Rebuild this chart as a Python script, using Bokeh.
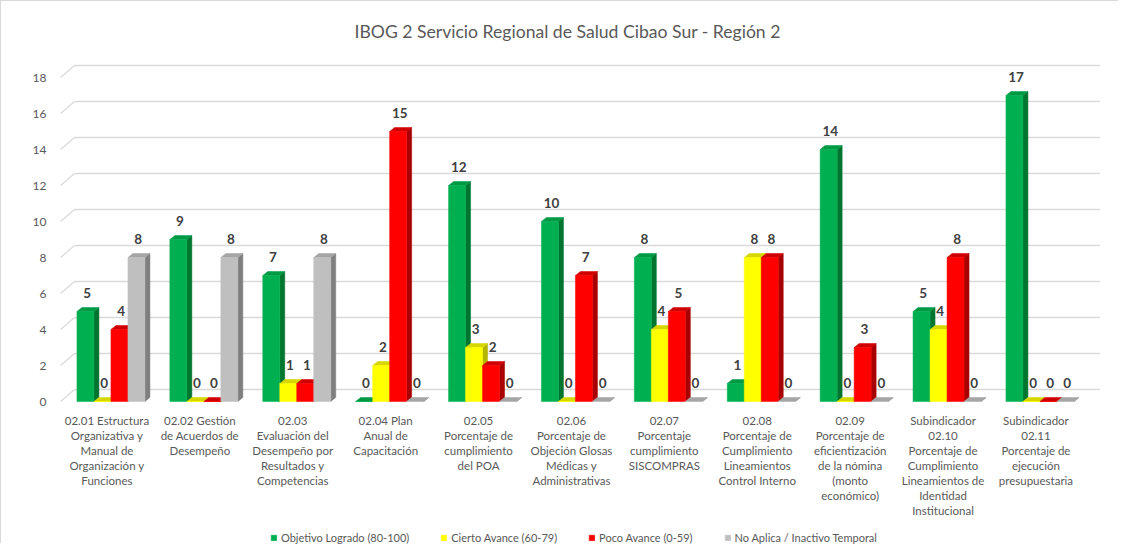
from bokeh.plotting import figure
from bokeh.models import FixedTicker, Legend, LegendItem, Range1d
from bokeh.embed import file_html
from bokeh.resources import INLINE
from bokeh.core.properties import value

# ---------------- data ----------------
categories = [
    "02.01 Estructura\nOrganizativa y\nManual de\nOrganización y\nFunciones",
    "02.02 Gestión\nde Acuerdos de\nDesempeño",
    "02.03\nEvaluación del\nDesempeño por\nResultados y\nCompetencias",
    "02.04 Plan\nAnual de\nCapacitación",
    "02.05\nPorcentaje de\ncumplimiento\ndel POA",
    "02.06\nPorcentaje de\nObjeción Glosas\nMédicas y\nAdministrativas",
    "02.07\nPorcentaje\ncumplimiento\nSISCOMPRAS",
    "02.08\nPorcentaje de\nCumplimiento\nLineamientos\nControl Interno",
    "02.09\nPorcentaje de\neficientización\nde la nómina\n(monto\neconómico)",
    "Subindicador\n02.10\nPorcentaje de\nCumplimiento\nLineamientos de\nIdentidad\nInstitucional",
    "Subindicador\n02.11\nPorcentaje de\nejecución\npresupuestaria",
]
series_names = ["Objetivo Logrado (80-100)", "Cierto Avance (60-79)",
                "Poco Avance (0-59)", "No Aplica / Inactivo Temporal"]
objetivo_logrado = [5, 9, 7, 0, 12, 10, 8, 1, 14, 5, 17]
cierto_avance = [0, 0, 1, 2, 3, 0, 4, 8, 0, 4, 0]
poco_avance = [4, 0, 1, 15, 2, 7, 5, 8, 3, 8, 0]
no_aplica = [8, 8, 8, 0, 0, 0, 0, 0, 0, 0, 0]
y_ticks = [0, 2, 4, 6, 8, 10, 12, 14, 16, 18]
title_text = "IBOG 2 Servicio Regional de Salud Cibao Sur - Región 2"

series_values = [objetivo_logrado, cierto_avance, poco_avance, no_aplica]

# ---------------- styles ----------------
front_colors = ["#00B050", "#FFFF00", "#FF0000", "#BFBFBF"]
side_colors = ["#00752F", "#B5B500", "#A80000", "#7F7F7F"]
top_colors = ["#009A45", "#D6D600", "#D00000", "#A5A5A5"]
TEXT = "#595959"
GRID = "#D9D9D9"
FONT = "Lato"

PX_X = 92.9      # pixels per category
PX_Y = 18.0      # pixels per value unit
BAR_W = 17.0 / PX_X
SHIFT = 4.0 / PX_X
DEPTH_X = 5.0 / PX_X
DEPTH_Y = 4.0 / PX_Y
WALL_X = 14.0 / PX_X
WALL_Y = 12.0 / PX_Y

W, H = 1118, 543
FL, FR, FT, FB = 58, 1110, 47, 543   # frame edges in canvas px
ZERO_PX = 400.0

x_start = -0.5 - 1.0 / PX_X
x_end = x_start + (FR - FL) / PX_X
y_start = -(FB - ZERO_PX) / PX_Y
y_end = y_start + (FB - FT) / PX_Y

p = figure(width=W, height=H, output_backend="svg", toolbar_location=None,
           x_range=Range1d(x_start, x_end), y_range=Range1d(y_start, y_end),
           min_border_left=FL, min_border_right=W - FR,
           min_border_top=FT, min_border_bottom=H - FB)
p.styles = {"border-left": "1px solid #D9D9D9", "border-top": "1px solid #D9D9D9"}
p.outline_line_color = None
p.xgrid.visible = False
p.ygrid.visible = False
p.xaxis.visible = False

p.title.text = title_text
p.title.align = "left"
p.title.offset = 295
p.title.text_font = FONT
p.title.text_font_size = "17.6px"
p.title.text_font_style = "normal"
p.title.text_color = TEXT
p.title.standoff = 13

# back-wall gridlines with floor diagonals
n = len(categories)
left_front = -0.5
right_back = (n - 1) + 0.69
p.segment(x0=[left_front + WALL_X] * len(y_ticks), y0=[t + WALL_Y for t in y_ticks],
          x1=[right_back] * len(y_ticks), y1=[t + WALL_Y for t in y_ticks],
          line_color=GRID, line_width=1.7)
p.segment(x0=[left_front] * len(y_ticks), y0=y_ticks,
          x1=[left_front + WALL_X] * len(y_ticks), y1=[t + WALL_Y for t in y_ticks],
          line_color=GRID, line_width=1.2)

# y axis
p.yaxis.ticker = FixedTicker(ticks=y_ticks)
p.yaxis.axis_line_color = None
p.yaxis.major_tick_line_color = None
p.yaxis.minor_tick_line_color = None
p.yaxis.major_label_standoff = 7
p.yaxis.major_label_text_font = FONT
p.yaxis.major_label_text_font_size = "12px"
p.yaxis.major_label_text_color = TEXT

# category labels under each group
p.text(x=list(range(n)), y=[0] * n, text=categories,
       text_align="center", text_baseline="top", y_offset=12,
       text_font=value(FONT), text_font_size="11.5px", text_color=TEXT,
       text_line_height=1.16)

# 3D bars
front_renderers = []
for s, vals in enumerate(series_values):
    xc = [i + SHIFT + (s - 1.5) * BAR_W for i in range(n)]
    xl = [x - BAR_W / 2 for x in xc]
    xr = [x + BAR_W / 2 for x in xc]
    side_xs = [[r, r + DEPTH_X, r + DEPTH_X, r] for r in xr]
    side_ys = [[0, DEPTH_Y, v + DEPTH_Y, v] for v in vals]
    p.patches(side_xs, side_ys, fill_color=side_colors[s], line_color=side_colors[s], line_width=0.5)
    top_xs = [[l, r, r + DEPTH_X, l + DEPTH_X] for l, r in zip(xl, xr)]
    top_ys = [[v, v, v + DEPTH_Y, v + DEPTH_Y] for v in vals]
    p.patches(top_xs, top_ys, fill_color=top_colors[s], line_color=top_colors[s], line_width=0.5)
    fr = p.vbar(x=xc, top=vals, bottom=0, width=BAR_W,
                fill_color=front_colors[s], line_color=front_colors[s], line_width=0.5)
    front_renderers.append(fr)

for s, vals in enumerate(series_values):
    xc = [i + SHIFT + (s - 1.5) * BAR_W + DEPTH_X / 3 for i in range(n)]
    p.text(x=xc, y=[v + DEPTH_Y for v in vals], text=[str(v) for v in vals],
           text_align="center", text_baseline="bottom", y_offset=-10,
           text_font=value(FONT), text_font_size="13.5px", text_font_style="bold",
           text_color="#404040")

legend = Legend(items=[LegendItem(label=nm, renderers=[r]) for nm, r in zip(series_names, front_renderers)],
                orientation="horizontal", location=(211, 0),
                label_text_font=FONT, label_text_font_size="11px", label_text_color=TEXT,
                glyph_width=7, glyph_height=7, label_standoff=4, spacing=31,
                border_line_color=None, background_fill_alpha=0, padding=0, margin=0)
p.add_layout(legend)

open("out.html", "w").write(file_html(p, INLINE))
